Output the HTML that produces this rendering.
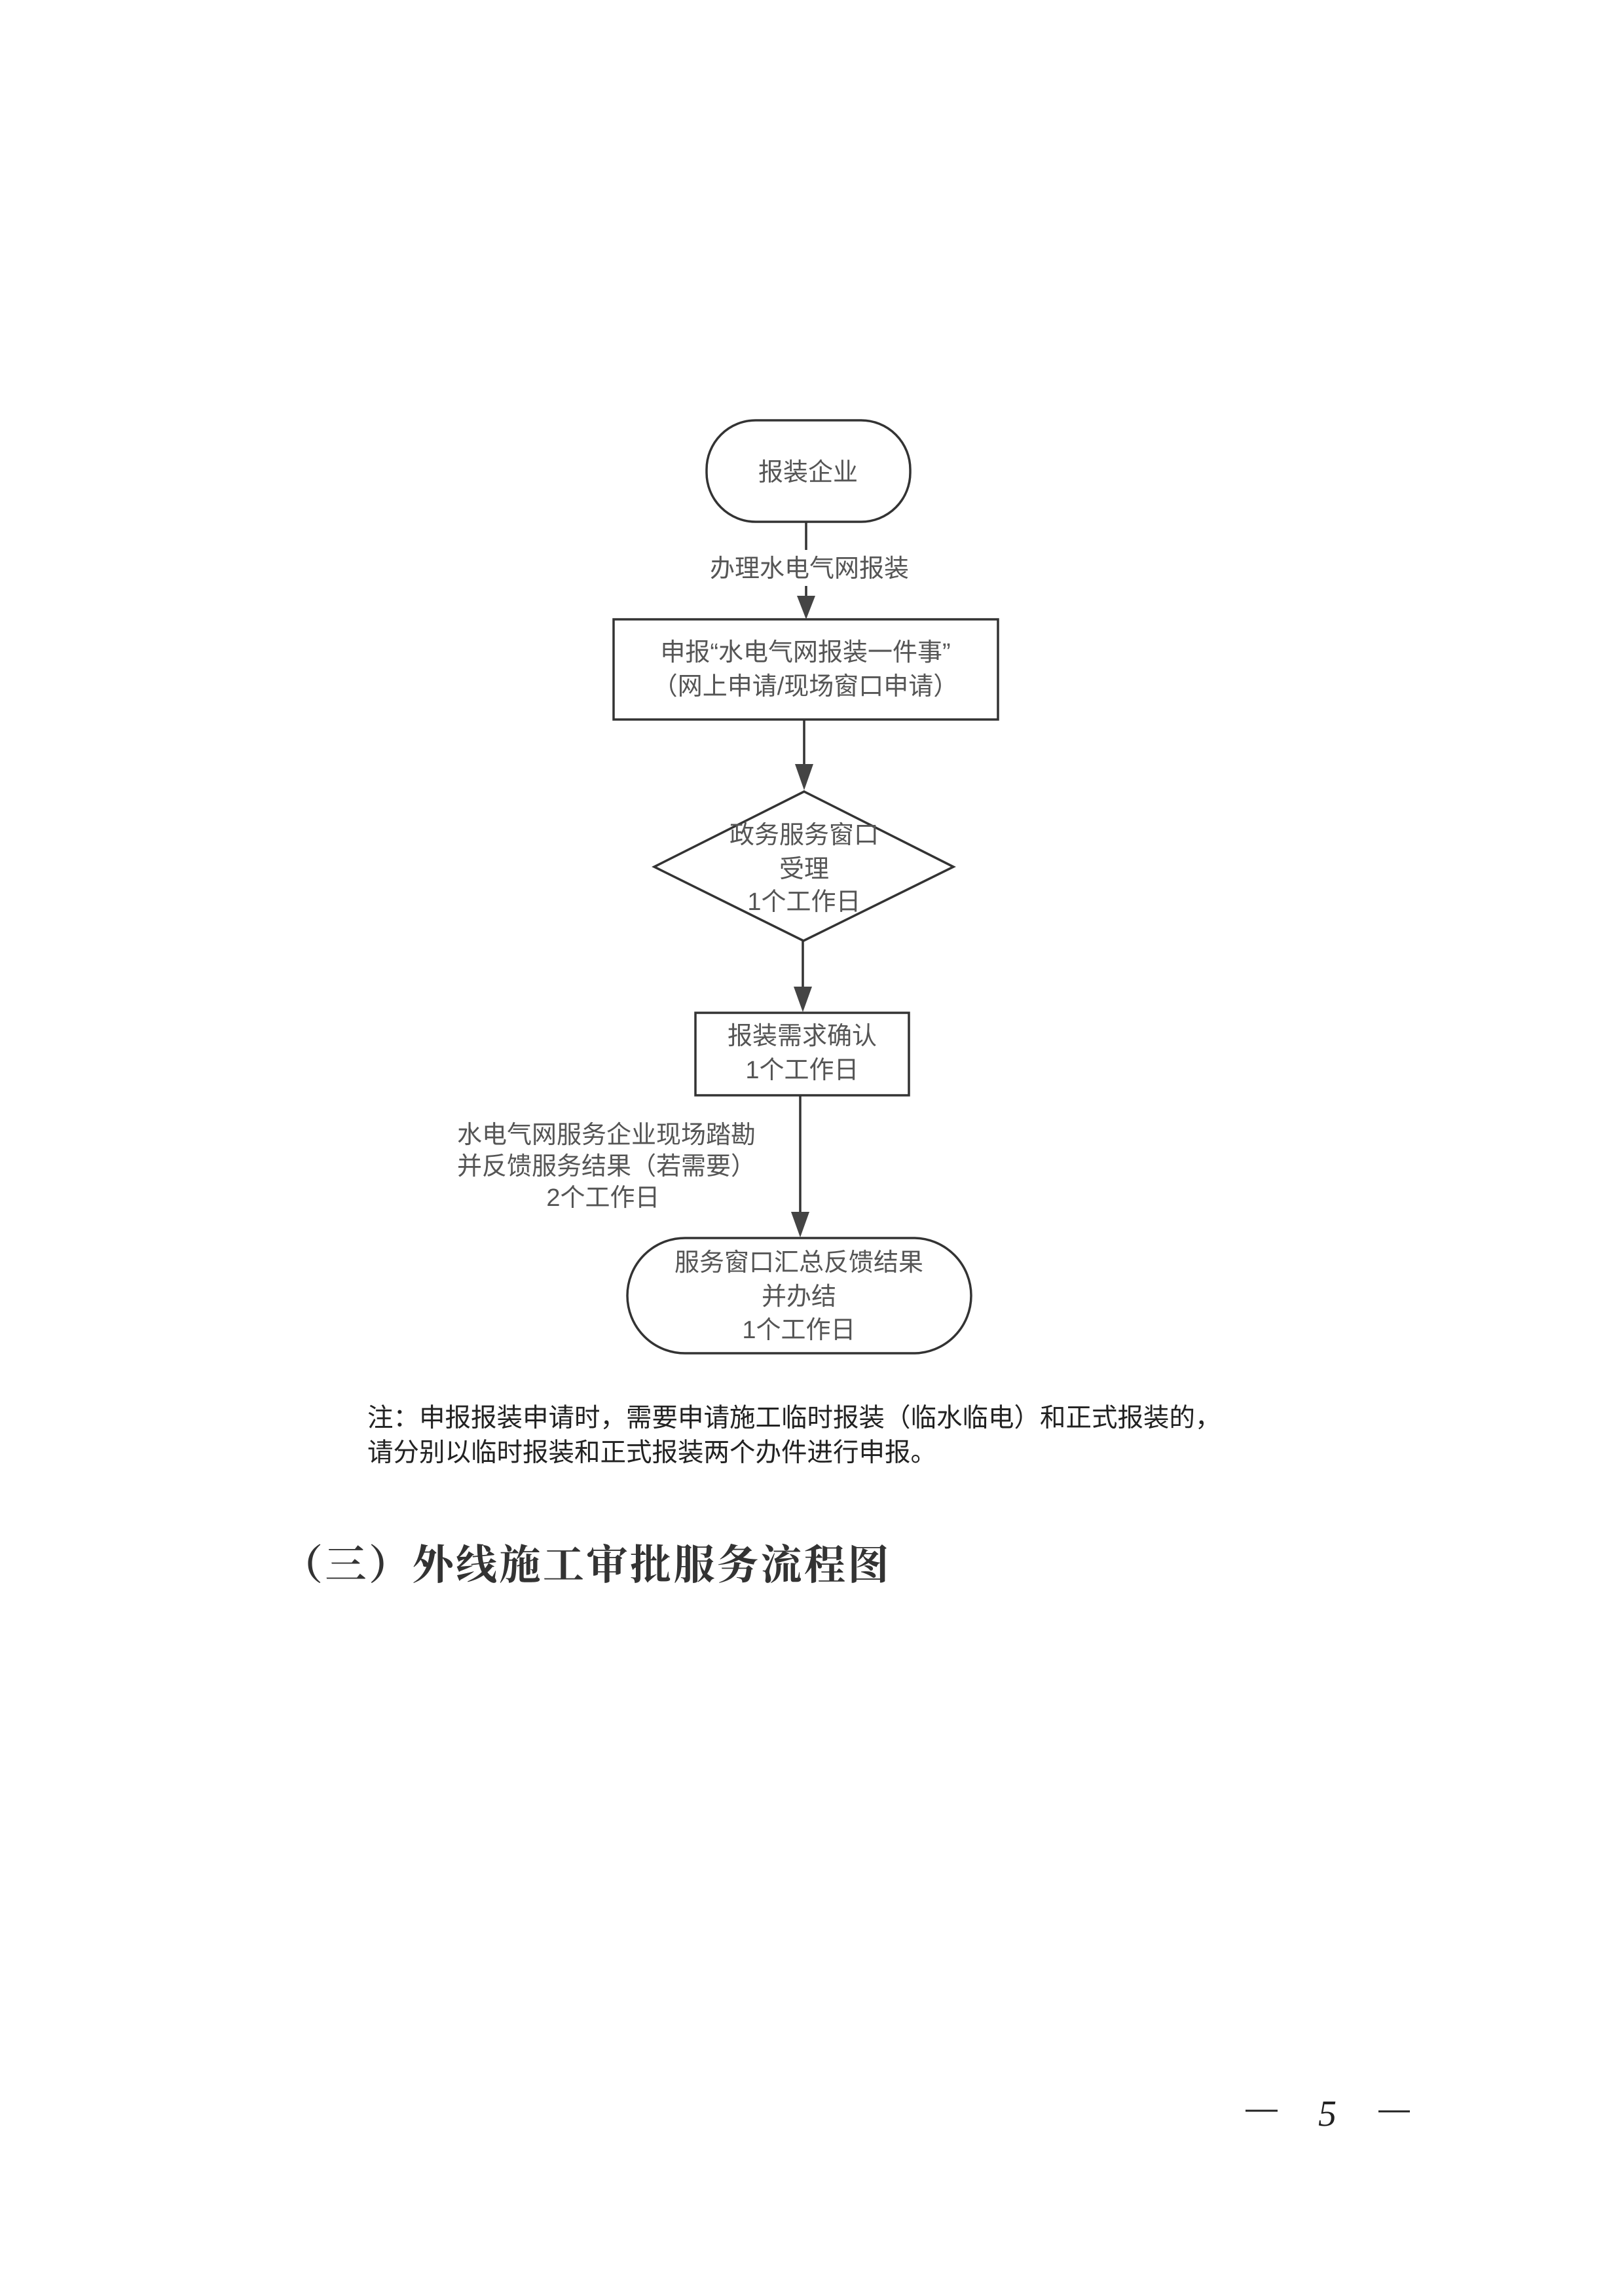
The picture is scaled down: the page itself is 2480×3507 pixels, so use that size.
<!DOCTYPE html>
<html><head><meta charset="utf-8"><style>
html,body{margin:0;padding:0;background:#fff;}
body{width:2480px;height:3507px;position:relative;overflow:hidden;}
svg{position:absolute;left:0;top:0;}
.f{font-family:"Liberation Sans","Noto Sans CJK SC",sans-serif;font-size:38px;fill:#555;text-anchor:middle;dominant-baseline:central;}
.n{position:absolute;font-family:"Liberation Sans","Noto Sans CJK SC",sans-serif;font-size:39.5px;color:#222;white-space:nowrap;line-height:53px;}
.h{position:absolute;font-family:"Liberation Serif","Noto Serif CJK SC",serif;font-weight:bold;font-size:63px;color:#333;white-space:nowrap;letter-spacing:3.5px;}
</style></head><body>
<svg width="2480" height="3507" viewBox="0 0 2480 3507">
<g stroke="#333" stroke-width="3.5" fill="none">
<rect x="1079" y="642" width="311" height="155" rx="75" ry="75"/>
<line x1="1231" y1="797" x2="1231" y2="840"/>
<line x1="1231" y1="895" x2="1231" y2="915"/>
<rect x="937" y="946" width="587" height="153"/>
<line x1="1228" y1="1099" x2="1228" y2="1170"/>
<polygon points="1228,1209 1456,1324 1227,1437 999,1324"/>
<line x1="1226" y1="1437" x2="1226" y2="1510"/>
<rect x="1062" y="1547" width="326" height="126"/>
<line x1="1222" y1="1673" x2="1222" y2="1853"/>
<rect x="958" y="1891" width="525" height="176" rx="88" ry="88"/>
</g>
<g fill="#444">
<polygon points="1217,910 1245,910 1231,946"/>
<polygon points="1214,1167 1242,1167 1228,1207"/>
<polygon points="1212,1507 1240,1507 1226,1546"/>
<polygon points="1208,1851 1236,1851 1222,1890"/>
</g>
<text class="f" x="1234" y="722">报装企业</text>
<text class="f" x="1236" y="869">办理水电气网报装</text>
<text class="f" x="1230" y="997">申报“水电气网报装一件事”</text>
<text class="f" x="1230" y="1049">（网上申请/现场窗口申请）</text>
<text class="f" x="1228" y="1276">政务服务窗口</text>
<text class="f" x="1228" y="1328">受理</text>
<text class="f" x="1228" y="1378">1个工作日</text>
<text class="f" x="1225" y="1583">报装需求确认</text>
<text class="f" x="1225" y="1635">1个工作日</text>
<text class="f" x="926" y="1734">水电气网服务企业现场踏勘</text>
<text class="f" x="926" y="1782">并反馈服务结果（若需要）</text>
<text class="f" x="921" y="1830">2个工作日</text>
<text class="f" x="1220" y="1929">服务窗口汇总反馈结果</text>
<text class="f" x="1220" y="1981">并办结</text>
<text class="f" x="1220" y="2032">1个工作日</text>
<line x1="1902" y1="3224" x2="1951" y2="3224" stroke="#222" stroke-width="3"/>
<line x1="2105" y1="3225" x2="2153" y2="3225" stroke="#222" stroke-width="3"/>
<text x="2027" y="3247" font-family="Liberation Serif,serif" font-style="italic" font-size="56" fill="#222" text-anchor="middle">5</text>
</svg>
<div class="n" style="left:561px;top:2140px;">注：申报报装申请时，需要申请施工临时报装（临水临电）和正式报装的，<br>请分别以临时报装和正式报装两个办件进行申报。</div>
<div class="h" style="left:430px;top:2340px;">（三）外线施工审批服务流程图</div>
</body></html>
